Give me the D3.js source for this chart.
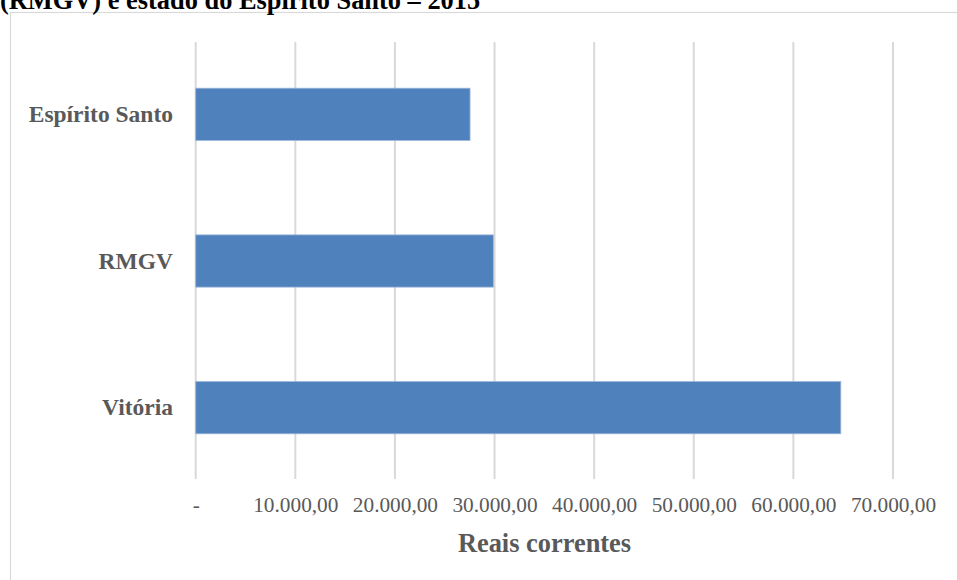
<!DOCTYPE html>
<html><head><meta charset="utf-8">
<script src="https://cdn.jsdelivr.net/npm/d3@7"></script>
<style>body{margin:0;background:#fff;}svg{display:block;}</style>
</head><body>
<svg id="c" width="957" height="580"></svg>
<script>
const categories = ["Espírito Santo", "RMGV", "Vitória"];
const values = [27540, 29880, 64760];
const tickValues = [0, 10000, 20000, 30000, 40000, 50000, 60000, 70000];
const tickLabels = ["-", "10.000,00", "20.000,00", "30.000,00", "40.000,00", "50.000,00", "60.000,00", "70.000,00"];
const titleText = "(RMGV) e estado do Espírito Santo – 2015";
const axisTitle = "Reais correntes";

const svg = d3.select("#c");
const serif = "'Liberation Serif','Times New Roman',serif";

// frame
svg.append("rect").attr("x", 10.5).attr("y", 12.5).attr("width", 1000).attr("height", 1000)
  .attr("fill", "none").attr("stroke", "#d9d9d9").attr("stroke-width", 1.2);

// title (cut off at top, as in the reference)
svg.append("text").attr("x", 0).attr("y", 9).text(titleText)
  .attr("font-family", serif).attr("font-weight", "bold").attr("font-size", 26.4).attr("fill", "#000");

const x = d3.scaleLinear().domain([0, 70000]).range([195.7, 893]);
const y = d3.scaleBand().domain(categories).range([42, 480]).paddingInner(0.644).paddingOuter(0.315);

// gridlines
svg.append("g").selectAll("line").data(tickValues).join("line")
  .attr("x1", d => x(d)).attr("x2", d => x(d)).attr("y1", 42).attr("y2", 479)
  .attr("stroke", "#d9d9d9").attr("stroke-width", 2);

// bars
svg.append("g").selectAll("rect").data(values).join("rect")
  .attr("x", x(0)).attr("y", (d, i) => y(categories[i]))
  .attr("width", d => x(d) - x(0)).attr("height", y.bandwidth())
  .attr("fill", "#4f81bd").attr("stroke", "#9bb6da").attr("stroke-width", 0.8);

// x tick labels via axis
const xAxis = d3.axisBottom(x).tickValues(tickValues).tickFormat((d, i) => tickLabels[i]).tickSize(0).tickPadding(0);
const gx = svg.append("g").attr("transform", "translate(0,497)").call(xAxis);
gx.select(".domain").remove();
gx.selectAll("text").attr("font-family", serif).attr("font-size", 21.3).attr("fill", "#595959").attr("dy", "0.71em");

// y category labels via axis
const yAxis = d3.axisLeft(y).tickSize(0).tickPadding(0);
const gy = svg.append("g").attr("transform", "translate(173,0)").call(yAxis);
gy.select(".domain").remove();
gy.selectAll("text").attr("font-family", serif).attr("font-weight", "bold").attr("font-size", 23.5).attr("fill", "#595959");

// axis title
svg.append("text").attr("x", 544.5).attr("y", 552).attr("text-anchor", "middle").text(axisTitle)
  .attr("font-family", serif).attr("font-weight", "bold").attr("font-size", 26.4).attr("fill", "#595959");
</script>
</body></html>
